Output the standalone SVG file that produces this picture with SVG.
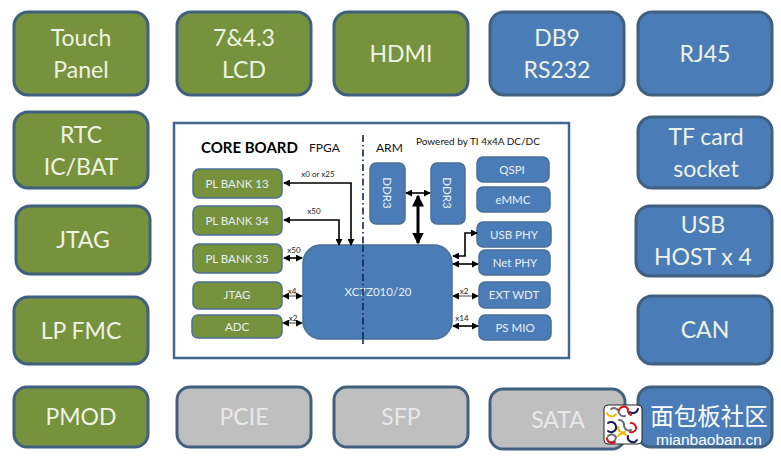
<svg xmlns="http://www.w3.org/2000/svg" width="781" height="456" viewBox="0 0 781 456">
  <style>
    text { font-family: "Lato", "Liberation Sans", sans-serif; text-anchor: middle; }
    .big rect { stroke: #41607f; stroke-width: 3; }
    .green rect { fill: #76923c; }
    .blue rect { fill: #4a7cb8; }
    .grey rect { fill: #bfbfbf; }
    .big text { font-size: 23px; fill: #eef2e4; }
    .grey text { fill: #e9e9e9; }
    .small rect { stroke: #4a6f96; stroke-width: 1.5; }
    .small text { font-size: 11.5px; fill: #e8eef5; }
    .wire { fill: none; stroke: #000; stroke-width: 1.6; }
    .fat { fill: none; stroke: #000; stroke-width: 3; }
    .thin { fill: none; stroke: #444; stroke-width: 1; }
    .bus { font-size: 8px; fill: #222; }
    .head { font-size: 14px; fill: #111; text-anchor: start; }
    .arc { fill: none; stroke-width: 2; stroke-linecap: round; }
  </style>
  <defs>
    <marker id="tip" viewBox="0 0 8 8" refX="7" refY="4" markerWidth="7" markerHeight="7" markerUnits="userSpaceOnUse" orient="auto-start-reverse">
      <path d="M0 0L8 4L0 8Z" fill="#000"/>
    </marker>
    <marker id="tipFat" viewBox="0 0 8 8" refX="7" refY="4" markerWidth="4" markerHeight="4" orient="auto-start-reverse">
      <path d="M0 0L8 4L0 8Z" fill="#000"/>
    </marker>
  </defs>

  <rect width="781" height="456" fill="#fff"/>

  <g id="touch-panel" class="big green"><rect x="14" y="12" width="134" height="83" rx="14"/><text x="81" y="46">Touch</text><text x="81" y="78">Panel</text></g>
  <g id="lcd" class="big green"><rect x="177" y="12" width="134" height="83" rx="14"/><text x="244" y="46">7&amp;4.3</text><text x="244" y="78">LCD</text></g>
  <g id="hdmi" class="big green"><rect x="334" y="12" width="134" height="83" rx="14"/><text x="401" y="62">HDMI</text></g>
  <g id="db9" class="big blue"><rect x="490" y="12" width="134" height="83" rx="14"/><text x="557" y="46">DB9</text><text x="557" y="78">RS232</text></g>
  <g id="rj45" class="big blue"><rect x="638" y="12" width="134" height="83" rx="14"/><text x="705" y="62">RJ45</text></g>
  <g id="rtc" class="big green"><rect x="14" y="112" width="134" height="76" rx="14"/><text x="81" y="143">RTC</text><text x="81" y="175">IC/BAT</text></g>
  <g id="tf-card" class="big blue"><rect x="638" y="117" width="134" height="71" rx="14"/><text x="706" y="145">TF card</text><text x="706" y="177">socket</text></g>
  <g id="jtag" class="big green"><rect x="16" y="206" width="134" height="68" rx="14"/><text x="83" y="248">JTAG</text></g>
  <g id="usb-host" class="big blue"><rect x="636" y="206" width="136" height="70" rx="14"/><text x="703" y="233">USB</text><text x="703" y="265">HOST x 4</text></g>
  <g id="lp-fmc" class="big green"><rect x="14" y="297" width="134" height="67" rx="14"/><text x="81" y="339">LP FMC</text></g>
  <g id="can" class="big blue"><rect x="638" y="296" width="134" height="68" rx="14"/><text x="705" y="338">CAN</text></g>
  <g id="pmod" class="big green"><rect x="14" y="387" width="134" height="60" rx="13"/><text x="81" y="425">PMOD</text></g>
  <g id="pcie" class="big grey"><rect x="177" y="387" width="134" height="60" rx="13"/><text x="244" y="425">PCIE</text></g>
  <g id="sfp" class="big grey"><rect x="334" y="387" width="134" height="60" rx="13"/><text x="401" y="425">SFP</text></g>
  <g id="expansion" class="big blue"><rect x="638" y="387" width="134" height="60" rx="13"/></g>
  <g id="sata" class="big grey"><rect x="490" y="389" width="135" height="60" rx="13"/><text x="558" y="428">SATA</text></g>

  <g id="core-board">
    <rect x="174" y="123" width="395" height="235" fill="#fff" stroke="#41668f" stroke-width="2.5"/>
    <text x="201" y="153" style="font-size:15px;font-weight:700;fill:#000;text-anchor:start">CORE BOARD</text>
    <text x="309" y="152" class="head" style="font-size:12px">FPGA</text>
    <text x="376" y="152" class="head" style="font-size:12px">ARM</text>
    <text x="416" y="145" class="head" style="font-size:10px">Powered by TI 4x4A DC/DC</text>
    <path d="M363 135V344" fill="none" stroke="#0d2a4d" stroke-width="1.6" stroke-dasharray="7 3 1.5 3"/>
  </g>

  <g id="xc7z" class="small"><rect x="303" y="245" width="149" height="94" rx="18" fill="#4a7cb8" stroke="none"/><text x="378" y="296">XC7Z010/20</text></g>
  <path d="M363 245V339" fill="none" stroke="#0d2a4d" stroke-width="1.6" stroke-dasharray="7 3 1.5 3"/>
  <g id="pl13" class="small green"><rect x="193" y="169" width="89" height="29" rx="6"/><text x="237" y="188">PL BANK 13</text></g>
  <g id="pl34" class="small green"><rect x="193" y="206" width="89" height="29" rx="6"/><text x="237" y="225">PL BANK 34</text></g>
  <g id="pl35" class="small green"><rect x="193" y="244" width="89" height="29" rx="6"/><text x="237" y="263">PL BANK 35</text></g>
  <g id="jtag-pl" class="small green"><rect x="193" y="282" width="89" height="27" rx="6"/><text x="237" y="299">JTAG</text></g>
  <g id="adc" class="small green"><rect x="192" y="315" width="90" height="23" rx="6"/><text x="237" y="331">ADC</text></g>
  <g id="ddr3-a" class="small blue"><rect x="370" y="163" width="35" height="61" rx="6"/><text transform="translate(383 193) rotate(90)">DDR3</text></g>
  <g id="ddr3-b" class="small blue"><rect x="431" y="163" width="34" height="61" rx="6"/><text transform="translate(443 193) rotate(90)">DDR3</text></g>
  <g id="qspi" class="small blue"><rect x="477" y="157" width="72" height="25" rx="6"/><text x="512" y="174">QSPI</text></g>
  <g id="emmc" class="small blue"><rect x="477" y="187" width="73" height="25" rx="6"/><text x="513" y="204">eMMC</text></g>
  <g id="usb-phy" class="small blue"><rect x="477" y="222" width="74" height="25" rx="6"/><text x="514" y="239">USB PHY</text></g>
  <g id="net-phy" class="small blue"><rect x="479" y="250" width="71" height="25" rx="6"/><text x="515" y="267">Net PHY</text></g>
  <g id="ext-wdt" class="small blue"><rect x="479" y="282" width="71" height="26" rx="6"/><text x="514" y="299">EXT WDT</text></g>
  <g id="ps-mio" class="small blue"><rect x="479" y="315" width="72" height="25" rx="6"/><text x="515" y="332">PS MIO</text></g>

  <g id="connectors">
    <path class="wire" d="M284 183H351V245" marker-start="url(#tip)" marker-end="url(#tip)"/>
    <path class="wire" d="M284 220H339V245" marker-start="url(#tip)" marker-end="url(#tip)"/>
    <path class="wire" d="M284 258H302" marker-start="url(#tip)" marker-end="url(#tip)"/>
    <path class="thin" d="M283 296H302" marker-start="url(#tip)" marker-end="url(#tip)"/>
    <path class="thin" d="M283 323H302" marker-start="url(#tip)" marker-end="url(#tip)"/>
    <path class="wire" d="M406 193H430" marker-start="url(#tip)" marker-end="url(#tip)"/>
    <path class="fat" d="M418 196V243" marker-start="url(#tipFat)" marker-end="url(#tipFat)"/>
    <path class="wire" d="M453 256H465V233H477" marker-start="url(#tip)" marker-end="url(#tip)"/>
    <path class="wire" d="M453 264H478" marker-start="url(#tip)" marker-end="url(#tip)"/>
    <path class="thin" d="M453 296H478" marker-start="url(#tip)" marker-end="url(#tip)"/>
    <path class="wire" d="M453 326H478" marker-start="url(#tip)" marker-end="url(#tip)"/>
    <text class="bus" x="318" y="177">x0 or x25</text>
    <text class="bus" x="314" y="214">x50</text>
    <text class="bus" x="294" y="253">x50</text>
    <text class="bus" x="292" y="294">x4</text>
    <text class="bus" x="293" y="321">x2</text>
    <text class="bus" x="464" y="294">x2</text>
    <text class="bus" x="462" y="321">x14</text>
  </g>

  <g id="site-badge">
    <rect x="604" y="405" width="38" height="39" rx="4" fill="#fff" stroke="#222" stroke-width="1"/>
    <g class="arc">
      <path d="M607 413a5 5 0 0 0 9 1" stroke="#f5b800"/>
      <path d="M611 409a5 5 0 0 1 8 4a5 5 0 0 0 6 3" stroke="#6d6d6d"/>
      <path d="M619 410a5 5 0 0 1 9 -1a5 5 0 0 0 3 6" stroke="#d4101e"/>
      <path d="M630 412a5 5 0 0 0 8 -3" stroke="#131d52"/>
      <path d="M608 423a5 5 0 0 1 8 3a5 5 0 0 1 -8 5" stroke="#131d52"/>
      <path d="M619 420a5 5 0 0 1 5 6a5 5 0 0 0 7 4" stroke="#6d6d6d"/>
      <path d="M631 423a5 5 0 0 1 5 6a5 5 0 0 1 -6 3" stroke="#d4101e"/>
      <path d="M618 427a5 5 0 0 0 7 5" stroke="#f5b800"/>
      <path d="M608 436a5 5 0 0 1 8 1a5 5 0 0 1 -5 5" stroke="#6d6d6d"/>
      <path d="M607 438a5 5 0 0 0 8 4" stroke="#d4101e"/>
      <path d="M618 436a5 5 0 0 1 8 -1" stroke="#f5b800"/>
      <path d="M628 436a5 5 0 0 0 9 4" stroke="#131d52"/>
    </g>
    <text x="709" y="425" style="font-family:'Noto Sans CJK SC',sans-serif;font-size:23.500px;fill:#fff">面包板社区</text>
    <text x="709" y="445" style="font-family:'Liberation Sans',sans-serif;font-size:15.500px;fill:#fff">mianbaoban.cn</text>
  </g>
</svg>
